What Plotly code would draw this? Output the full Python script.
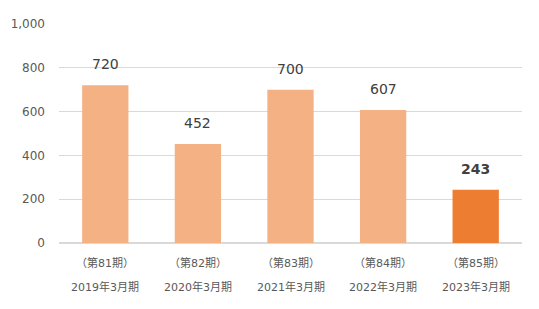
import plotly.graph_objects as go

periods = ["（第81期）", "（第82期）", "（第83期）", "（第84期）", "（第85期）"]
years = ["2019年3月期", "2020年3月期", "2021年3月期", "2022年3月期", "2023年3月期"]
values = [720, 452, 700, 607, 243]
colors = ["#F4B183", "#F4B183", "#F4B183", "#F4B183", "#ED7D31"]
ytickvals = [0, 200, 400, 600, 800, 1000]
yticktext = ["0", "200", "400", "600", "800", "1,000"]

font = "DejaVu Sans, Noto Sans CJK JP, sans-serif"
x = list(range(len(values)))

fig = go.Figure(go.Bar(x=x, y=values, marker=dict(color=colors, line=dict(width=0)), width=0.5))

for i, v in enumerate(values):
    last = i == len(values) - 1
    fig.add_annotation(x=i, y=v, text=f"<b>{v}</b>" if last else str(v), showarrow=False,
                       yanchor="bottom", yshift=11, font=dict(family=font, size=14, color="#404040"))
    fig.add_annotation(x=i, y=0, yref="y", text=periods[i], showarrow=False, yanchor="middle",
                       yshift=-20, font=dict(family=font, size=11, color="#595959"))
    fig.add_annotation(x=i, y=0, yref="y", text=years[i], showarrow=False, yanchor="middle",
                       yshift=-44, font=dict(family=font, size=11, color="#595959"))

fig.update_layout(
    width=539, height=309, margin=dict(l=59, r=17, t=24, b=66),
    plot_bgcolor="white", paper_bgcolor="white", showlegend=False,
    bargap=0.5,
)
fig.update_xaxes(range=[-0.5, 4.5], showticklabels=False, showgrid=False, zeroline=False,
                 showline=False, ticks="")
fig.update_yaxes(range=[0, 1000], tickvals=ytickvals, ticktext=yticktext, showgrid=True,
                 gridcolor="#D9D9D9", gridwidth=1, zeroline=True, zerolinecolor="#D9D9D9",
                 zerolinewidth=1.5, ticks="", ticklabelstandoff=13,
                 tickfont=dict(family=font, size=12, color="#595959"))

fig.write_html("out.html")
